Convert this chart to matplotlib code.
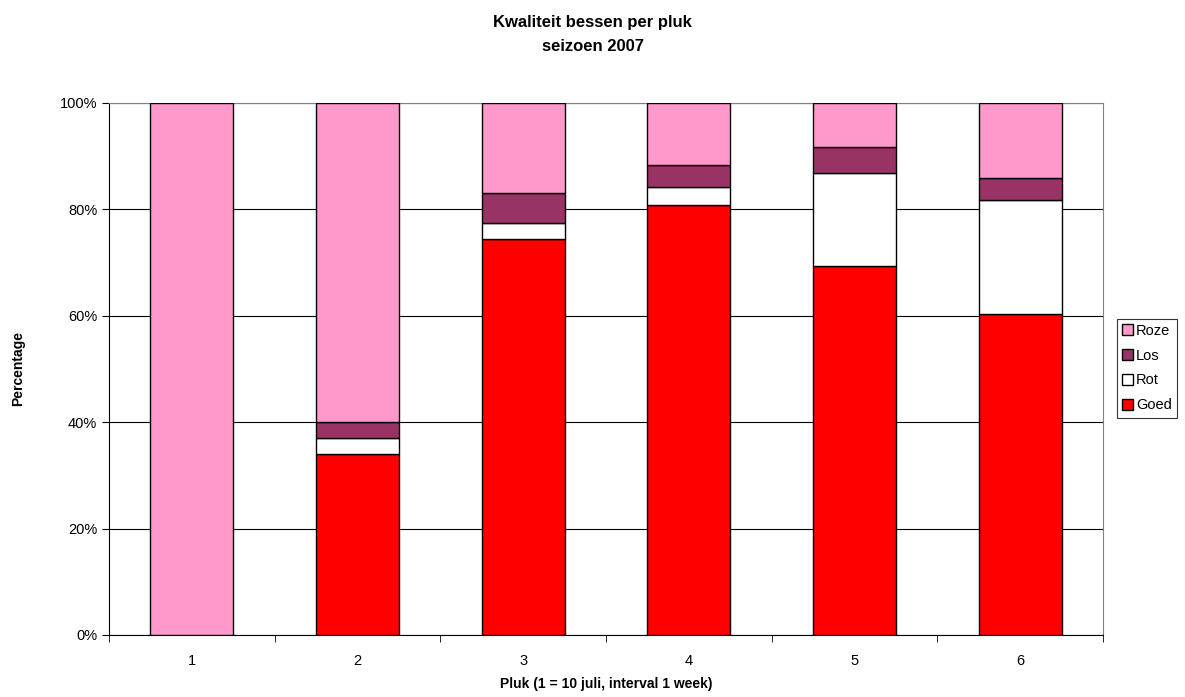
import matplotlib
matplotlib.use("Agg")
import matplotlib.pyplot as plt
import numpy as np

plt.rcParams['font.family'] = ['Liberation Sans', 'DejaVu Sans']

# percentages per pluk (1 = 10 juli, then weekly)
pluk = ['1', '2', '3', '4', '5', '6']
goed = [0.0, 34.1, 74.4, 80.9, 69.3, 60.4]
rot = [0.0, 2.9, 3.0, 3.3, 17.6, 21.3]
los = [0.0, 3.1, 5.7, 4.1, 4.8, 4.2]
roze = [100.0, 59.9, 16.9, 11.7, 8.3, 14.1]

series = [('Goed', goed, '#FF0000'),
          ('Rot', rot, '#FFFFFF'),
          ('Los', los, '#993366'),
          ('Roze', roze, '#FF99CC')]

fig = plt.figure(figsize=(11.85, 6.97), dpi=100)
ax = fig.add_axes([0.092, 0.089, 0.8388, 0.7633])

x = np.arange(len(pluk))
bottom = np.zeros(len(pluk))
handles = []
for name, vals, col in series:
    vals = np.array(vals)
    b = ax.bar(x, vals, width=0.5, bottom=bottom, color=col,
               edgecolor='black', linewidth=1.0, label=name, zorder=3)
    handles.append(b)
    bottom += vals

ax.set_xlim(-0.5, len(pluk) - 0.5)
ax.set_ylim(0, 100)
ax.set_yticks(np.arange(0, 101, 20))
ax.set_yticklabels([f'{v}%' for v in range(0, 101, 20)], fontsize=10.5)
ax.yaxis.grid(True, color='black', linewidth=0.8, zorder=0)

# category labels centred, tick marks between categories
ax.set_xticks(x)
ax.set_xticklabels(pluk, fontsize=10.5)
ax.tick_params(axis='x', length=0, pad=14)
ax.set_xticks(np.arange(-0.5, len(pluk), 1), minor=True)
ax.tick_params(axis='x', which='minor', length=5, color='black')
ax.tick_params(axis='y', length=5, color='black')

for side in ['top', 'right']:
    ax.spines[side].set_color('#808080')
for side in ['left', 'bottom']:
    ax.spines[side].set_color('black')

ax.set_xlabel('Pluk (1 = 10 juli, interval 1 week)', fontsize=10,
              fontweight='bold', labelpad=6)
ax.set_ylabel('Percentage', fontsize=10, fontweight='bold')
ax.yaxis.set_label_coords(-0.084, 0.5)

fig.suptitle('Kwaliteit bessen per pluk\nseizoen 2007', fontsize=12,
             fontweight='bold', y=0.978, linespacing=1.75)

leg = fig.legend(handles[::-1], [s[0] for s in series][::-1],
                 loc='center left', bbox_to_anchor=(0.9425, 0.472),
                 fontsize=10.5, frameon=True, fancybox=False, edgecolor='black',
                 handlelength=0.75, handleheight=0.75, handletextpad=0.2,
                 borderpad=0.35, labelspacing=0.75, borderaxespad=0)
leg.get_frame().set_linewidth(0.8)

fig.savefig('out.png', dpi=100)
